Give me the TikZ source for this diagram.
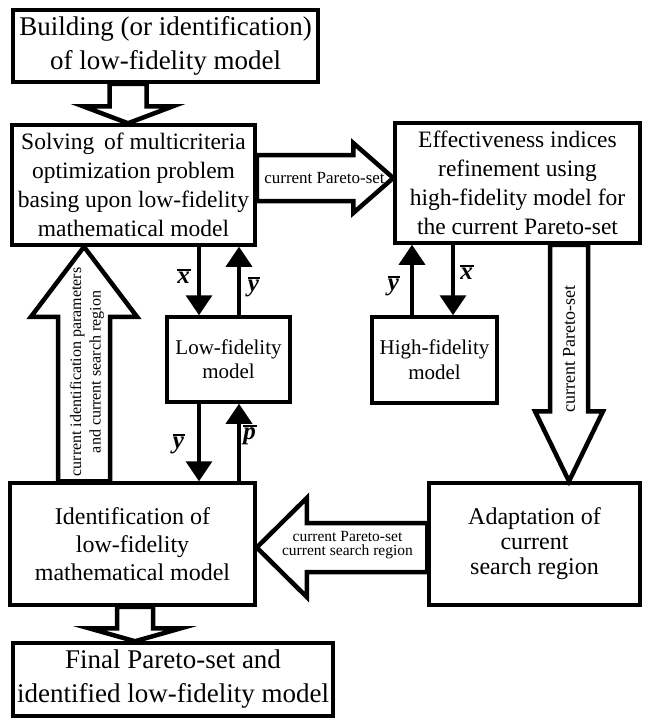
\documentclass[tikz,border=0pt]{standalone}
\usepackage{fontspec}
\setmainfont{Liberation Serif}
\usetikzlibrary{arrows.meta,calc}

% #1 from, #2 to, #3 shaft half width, #4 head half width, #5 head length
\newcommand\fatarrow[5]{%
  \draw[fatarrow] let \p1=(#1), \p2=(#2),
    \n1={veclen(\x2-\x1,\y2-\y1)}, \n2={atan2(\y2-\y1,\x2-\x1)} in
    [shift={(\p1)}, rotate=\n2]
    (0,-#3) -- (\n1-#5,-#3) -- (\n1-#5,-#4) -- (\n1,0) -- (\n1-#5,#4) -- (\n1-#5,#3) -- (0,#3) -- cycle;}

% overlined bold italic variable
\newcommand\ovar[1]{\leavevmode\vbox{\hrule height 2pt\kern1.2pt\hbox{\bfseries\itshape #1\kern1pt}}}

\tikzset{
  box/.style={draw, line width=3.5pt, fill=white, align=center, inner sep=0pt,
    font=\fontsize{23.5}{29}\selectfont},
  fatarrow/.style={draw, line width=4.5pt, fill=white, line join=miter},
  sarrow/.style={line width=3.5pt, -{Triangle[width=26pt,length=20pt]}},
  vlabel/.style={inner sep=0pt, font=\fontsize{25}{25}\selectfont},
  alabel/.style={inner sep=0pt, align=center}
}

\begin{document}
\begin{tikzpicture}[x=1pt,y=-1pt]
\useasboundingbox[fill=white] (0,0) rectangle (645,720);

% boxes
\node[box, minimum width=305pt, minimum height=72pt, font=\fontsize{27}{34}\selectfont] (b1) at (165.5,46)
  {Building (or identification)\\of low-fidelity model};
\node[box, minimum width=243pt, minimum height=120pt] (b2) at (133.5,185)
  {Solving\, of multicriteria\\optimization problem\\basing upon low-fidelity\\mathematical model};
\node[box, minimum width=245pt, minimum height=120pt] (b3) at (517.5,183)
  {Effectiveness indices\\refinement using\\high-fidelity model for\\the current Pareto-set};
\node[box, minimum width=123pt, minimum height=85pt, font=\fontsize{21}{24}\selectfont] (lf) at (228.5,359.5)
  {Low-fidelity\\model};
\node[box, minimum width=125pt, minimum height=86pt, font=\fontsize{21}{25}\selectfont] (hf) at (434.5,360)
  {High-fidelity\\model};
\node[box, minimum width=245pt, minimum height=122pt, font=\fontsize{24}{28}\selectfont] (b4) at (132.5,544)
  {Identification of\\low-fidelity\\mathematical model};
\node[box, minimum width=211pt, minimum height=122pt, font=\fontsize{24}{25}\selectfont] (b5) at (534.5,544)
  {Adaptation of\\current\\search region};
\node[box, minimum width=320pt, minimum height=73pt, font=\fontsize{27}{34}\selectfont] (b6) at (173,679.5)
  {Final Pareto-set and\\identified low-fidelity model};

% fat arrows
\fatarrow{[xshift=-37.5pt]b1.south}{[xshift=-5.5pt]b2.north}{18.5}{45}{17}
\fatarrow{[yshift=7pt]b2.east}{[yshift=5pt]b3.west}{23}{35}{40}
\fatarrow{[xshift=-48.5pt]b4.north}{[xshift=-49.5pt]b2.south}{26}{53}{70}
\fatarrow{[xshift=51.5pt]b3.south}{[xshift=34.5pt]b5.north}{19}{34}{70}
\fatarrow{[yshift=-3.5pt]b5.west}{[yshift=-3.5pt]b4.east}{24.5}{49.5}{50}
\fatarrow{[xshift=2.5pt]b4.south}{[xshift=-38pt]b6.north}{18}{46}{13}

% labels in fat arrows
\node[alabel, font=\fontsize{17}{17}\selectfont] (t1) at (324.5,178) {current Pareto-set};
\node[alabel, rotate=90, font=\fontsize{16}{19.5}\selectfont] (t2) at (87,372)
  {current identification parameters\\and current search region};
\node[alabel, rotate=90, font=\fontsize{18}{18}\selectfont] (t3) at (569,349) {current Pareto-set};
\node[alabel, font=\fontsize{15.5}{14.5}\selectfont] (t4) at (347.5,545)
  {current Pareto-set\\current search region};

% small arrows
\draw[sarrow] ([xshift=65.5pt]b2.south) -- ([xshift=-29.5pt]lf.north);
\draw[sarrow] ([xshift=10.5pt]lf.north) -- ([xshift=105.5pt]b2.south);
\draw[sarrow] ([xshift=-29.5pt]lf.south) -- ([xshift=66.5pt]b4.north);
\draw[sarrow] ([xshift=106.5pt]b4.north) -- ([xshift=10.5pt]lf.south);
\draw[sarrow] ([xshift=-22.5pt]hf.north) -- ([xshift=-105.5pt]b3.south);
\draw[sarrow] ([xshift=-64.5pt]b3.south) -- ([xshift=18.5pt]hf.north);

% variable labels
\node[vlabel] (x1) at (184,276) {\ovar{x}};
\node[vlabel] (y1) at (254,287) {\ovar{y}};
\node[vlabel] (y2) at (179,444) {\ovar{y}};
\node[vlabel] (p1) at (250,435) {\ovar{p}};
\node[vlabel] (y3) at (394,286) {\ovar{y}};
\node[vlabel] (x2) at (467,272) {\ovar{x}};
\end{tikzpicture}
\end{document}
